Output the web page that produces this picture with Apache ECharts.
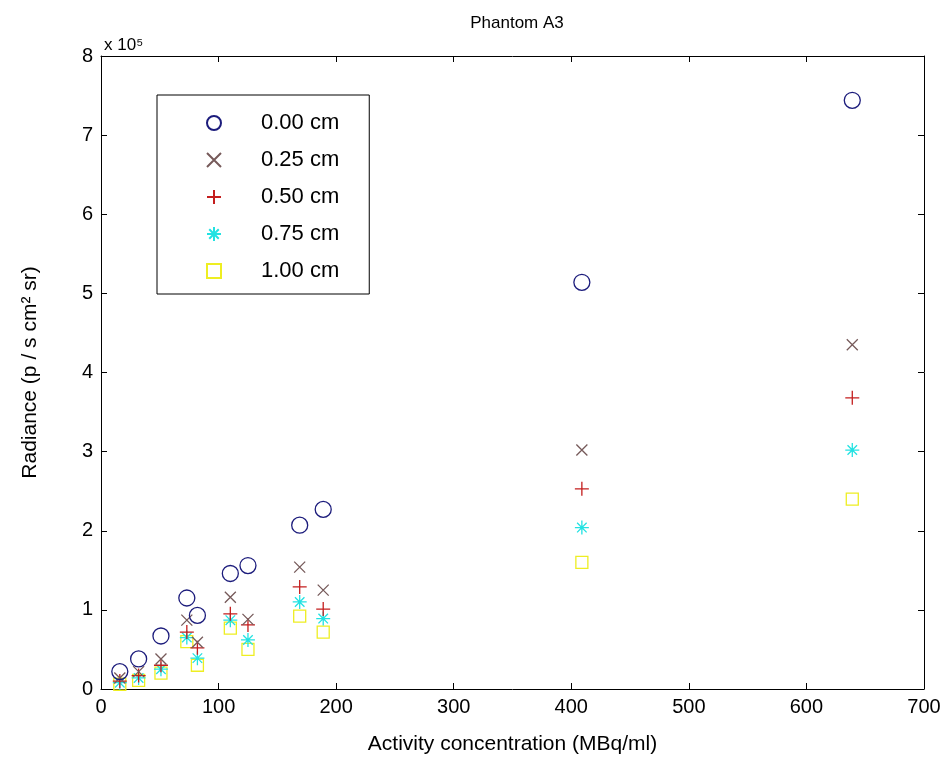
<!DOCTYPE html>
<html>
<head>
<meta charset="utf-8">
<script src="https://cdn.jsdelivr.net/npm/echarts@6/dist/echarts.min.js"></script>
<style>
html,body{margin:0;padding:0;background:#fff;}
#c{width:949px;height:760px;}
</style>
</head>
<body>
<div id="c"></div>
<script>
// Activity concentration (MBq/ml)
const activity = [16, 32, 51, 73, 82, 110, 125, 169, 189, 409, 639];
// Radiance (p / s cm^2 sr), per depth
const r000 = [0.22e5, 0.38e5, 0.67e5, 1.15e5, 0.93e5, 1.46e5, 1.56e5, 2.07e5, 2.27e5, 5.14e5, 7.44e5];
const r025 = [0.14e5, 0.22e5, 0.38e5, 0.87e5, 0.59e5, 1.16e5, 0.88e5, 1.54e5, 1.25e5, 3.02e5, 4.35e5];
const r050 = [0.10e5, 0.17e5, 0.30e5, 0.72e5, 0.52e5, 0.95e5, 0.81e5, 1.29e5, 1.01e5, 2.53e5, 3.68e5];
const r075 = [0.08e5, 0.14e5, 0.25e5, 0.65e5, 0.39e5, 0.87e5, 0.62e5, 1.10e5, 0.89e5, 2.04e5, 3.02e5];
const r100 = [0.06e5, 0.11e5, 0.20e5, 0.60e5, 0.30e5, 0.77e5, 0.50e5, 0.92e5, 0.72e5, 1.60e5, 2.40e5];
const seriesNames = ['0.00 cm', '0.25 cm', '0.50 cm', '0.75 cm', '1.00 cm'];
const xTicks = [0, 100, 200, 300, 400, 500, 600, 700];
const yTicks = [0, 1, 2, 3, 4, 5, 6, 7, 8];

const FONT = '"Liberation Sans", Arial, sans-serif';
const colors = ['#1c1c7c', '#765a5a', '#c41e1e', '#22e2e2', '#eeee22'];
const symbols = [
  'path://M50,0A50,50 0 1,1 49.99,0Z',
  'path://M0,0L10,10M10,0L0,10',
  'path://M5,0L5,10M0,5L10,5',
  'path://M5,0L5,10M0,5L10,5M1.6,1.6L8.4,8.4M8.4,1.6L1.6,8.4',
  'path://M0,0L10,0L10,10L0,10Z'
];
const sizes = [16, 11, 14, 14, 12];
const allData = [r000, r025, r050, r075, r100];

const series = allData.map((vals, i) => ({
  name: seriesNames[i],
  type: 'scatter',
  symbol: symbols[i],
  symbolSize: sizes[i],
  data: activity.map((a, k) => [a, vals[k]]),
  itemStyle: { color: 'rgba(0,0,0,0)', borderColor: colors[i], borderWidth: 1.3, opacity: 1 },
  emphasis: { disabled: true },
  z: 10 - i
}));

function axisCommon() {
  return {
    axisLine: { show: true, onZero: false, lineStyle: { color: '#000', width: 1 } },
    axisTick: { show: true, inside: true, length: 6, lineStyle: { color: '#000' } },
    splitLine: { show: false }
  };
}

const chart = echarts.init(document.getElementById('c'), null, { renderer: 'canvas' });
chart.setOption({
  animation: false,
  backgroundColor: '#fff',
  title: {
    text: 'Phantom A3',
    left: 512, top: 10, textAlign: 'center',
    textStyle: { fontFamily: FONT, fontSize: 17, fontWeight: 'normal', color: '#000' }
  },
  grid: { left: 101, right: 25, top: 56, bottom: 71, containLabel: false },
  legend: {
    orient: 'vertical',
    left: 157, top: 95,
    data: seriesNames,
    itemWidth: 14, itemHeight: 14,
    itemGap: 15,
    padding: [17, 30, 12, 49],
    borderColor: '#000', borderWidth: 1, backgroundColor: '#fff',
    textStyle: { fontFamily: FONT, fontSize: 22, color: '#000', padding: [0, 0, 0, 35] },
    selectedMode: false
  },
  xAxis: [
    Object.assign({
      type: 'value', min: 0, max: 700, interval: 100, position: 'bottom',
      name: 'Activity concentration (MBq/ml)', nameLocation: 'middle', nameGap: 45,
      nameTextStyle: { fontFamily: FONT, fontSize: 21, color: '#000' },
      axisLabel: { fontFamily: FONT, fontSize: 20, color: '#000', margin: 8,
        formatter: v => xTicks.includes(v) ? String(v) : '' }
    }, axisCommon()),
    Object.assign({
      type: 'value', min: 0, max: 700, interval: 100, position: 'top',
      axisLabel: { show: false }
    }, axisCommon())
  ],
  yAxis: [
    Object.assign({
      type: 'value', min: 0, max: 8e5, interval: 1e5, position: 'left',
      name: 'Radiance (p / s cm\u00B2 sr)', nameLocation: 'middle', nameGap: 60, nameRotate: 90,
      nameTextStyle: { fontFamily: FONT, fontSize: 21, color: '#000' },
      axisLabel: { fontFamily: FONT, fontSize: 20, color: '#000', margin: 8,
        formatter: v => { const t = Math.round(v / 1e5); return yTicks.includes(t) ? String(t) : ''; } }
    }, axisCommon()),
    Object.assign({
      type: 'value', min: 0, max: 8e5, interval: 1e5, position: 'right',
      axisLabel: { show: false }
    }, axisCommon())
  ],
  graphic: [
    {
      type: 'text', left: 104, top: 37,
      style: { text: 'x 10\u2075', fontFamily: FONT, fontSize: 17, fill: '#000' }
    }
  ],
  series: series
});
</script>
</body>
</html>
